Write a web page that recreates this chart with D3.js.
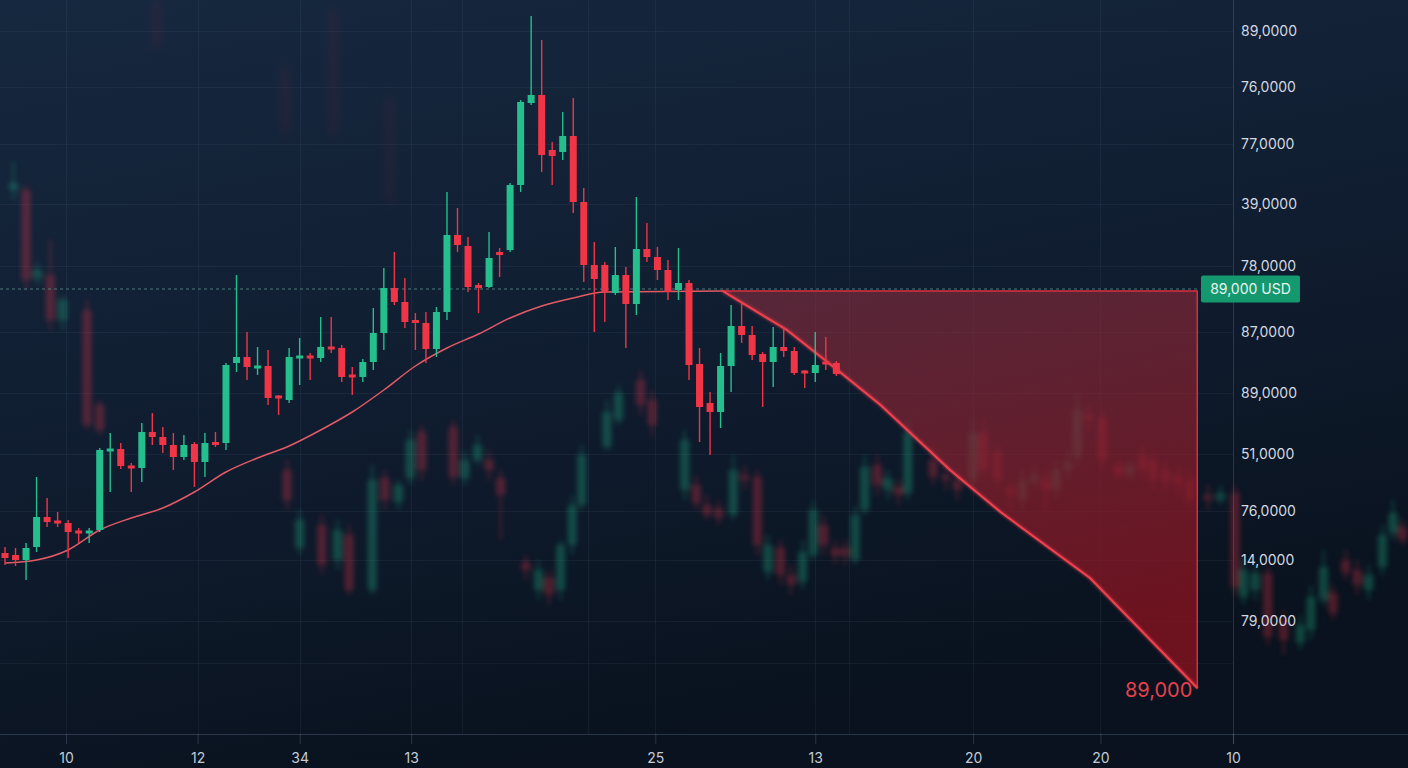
<!DOCTYPE html>
<html><head><meta charset="utf-8">
<script src="https://cdn.jsdelivr.net/npm/d3@7"></script>
<style>html,body{margin:0;padding:0;background:#0d1828;overflow:hidden}</style>
</head><body><svg id="c" width="1408" height="768"></svg>
<script>
// ---- DATA ----
// main candles: [open, high, low, close]
const candles = [
[44700,45300,43500,44200],[44500,45200,43400,44000],[44000,45700,42000,45200],[45300,52300,44800,48300],
[48300,50200,47300,47800],[47900,48800,47300,47700],[47700,48000,44200,46800],[46900,47200,45700,46700],
[46700,47200,45700,46900],[47000,55200,46800,55000],[54900,56700,50800,55100],[55100,55700,53100,53400],
[53400,53700,50800,53200],[53200,57700,51800,56800],[56800,58700,55500,56300],[56300,57300,54700,55500],
[55500,56700,53000,54300],[54300,56500,54000,55500],[55600,55800,51300,53800],[53800,56700,52300,55700],
[55800,56800,55300,55500],[55700,63700,55000,63500],[63700,72500,62800,64300],[64300,66800,62000,63300],
[63200,65300,62500,63400],[63400,65000,59500,60200],[60400,60500,58500,60200],[60000,65200,59700,64300],
[64200,66200,61500,64400],[64400,64700,62000,64200],[64200,68300,63800,65300],[65300,68300,64700,65100],
[65200,65500,61800,62300],[62500,63300,60500,62300],[62300,64100,61800,63800],[63800,69200,63000,66700],
[66700,73200,65000,71200],[71200,74800,69500,69800],[69800,72200,67200,67800],[68000,68700,65000,67700],
[67700,68800,63700,65100],[65100,69300,64300,68800],[68800,80800,68000,76500],[76500,79200,74800,75500],
[75400,76300,70800,71300],[71500,71700,68700,71200],[71300,76800,71200,74200],[74800,75200,72300,74500],
[75000,81700,74800,81500],[81500,90000,80800,89800],[89700,98400,89500,90500],[90500,96000,82800,84500],
[85000,85800,81500,84400],[84800,88800,84000,86400],[86400,90200,78700,79800],[79800,81200,71800,73500],
[73500,75800,66800,72100],[73500,73800,67800,70800],[70700,75300,70500,72500],[72500,73300,65200,69600],
[69600,80300,68500,75100],[75100,77700,73800,74300],[74300,75300,72000,73000],[73000,74000,70000,70800],
[71000,75200,70000,71700],[71700,72000,62000,63500],[63600,65200,55800,59300],[59700,60800,54500,58800],
[58800,64700,57200,63400],[63400,69500,60800,67400],[67400,69800,65700,66500],[66500,67400,64000,64500],
[64600,64800,59300,63800],[63800,67300,61300,65300],[65300,67300,64300,64900],[64900,65300,62500,62700],
[62900,63000,61200,62700],[62700,66800,61800,63500],[63800,66300,63000,63600],[63700,63900,62400,62600]
];
// blurred background candles: [position, open, high, low, close]
const bgCandles = [
[0.8,81000,83800,80000,81700],[2.0,81000,81500,71000,72000],[3.1,72200,73800,71500,73000],[4.3,72500,76000,67000,68000],
[5.5,68000,70500,67000,70000],[7.8,69000,70000,57000,57500],[9.0,59500,60000,56500,57000],
[26.8,53000,54000,49000,50000],[28.0,45200,49000,44500,48000],[30.1,47500,48500,42500,43500],[31.6,44000,48000,43000,47000],
[32.7,46500,47500,40500,41000],[34.9,41000,53500,40500,52000],[36.1,52200,53000,49000,50000],[37.4,49800,52000,49000,51500],
[38.5,52200,57000,51500,56000],[39.6,56800,57500,52000,53000],[42.6,57300,58000,51500,52300],[43.7,52200,55000,51500,54000],
[44.9,54000,56500,53500,55500],[46.0,54000,55000,52000,53000],[47.1,52200,53000,46000,50500],[49.5,43800,44500,42000,43000],
[50.7,41000,44000,40000,43000],[51.7,42200,43000,39500,40500],[52.8,41000,46000,40000,45500],[53.9,45500,50500,44500,49500],
[54.8,49500,55500,49000,54500],[57.2,55300,60000,55000,58800],[58.3,58000,61500,57500,60700],[60.4,62000,63000,58500,59500],
[61.5,60000,61000,56500,57500],[64.6,51000,57000,50000,56000],[65.7,51500,52500,49000,49700],[66.7,49500,50500,48000,48500],
[67.8,49200,50000,47500,48200],[69.2,48500,54500,48000,53000],[70.3,52500,53500,51000,52000],[71.5,52300,53000,44500,45500],
[72.5,42800,46500,42000,45500],[73.7,45200,46000,41500,42500],[74.7,42500,43500,40500,41500],[75.8,41800,46000,41000,44800],
[76.8,44500,50000,44000,49000],[77.8,47500,48500,44500,45500],[78.9,45200,46000,43500,44400],[79.8,45200,46000,43500,44400],
[80.8,44000,49500,43500,48500],[81.7,49000,54500,48500,53300],[82.9,53500,54500,50500,51500],[83.9,51000,53000,50000,52200],
[84.9,51300,52000,49500,50500],[85.8,50700,58000,50000,56800],[88.2,54000,55500,51500,52300],[89.4,52500,53500,51000,52000],
[90.5,52000,53000,50000,51000],[92.0,52000,58000,51000,56700],[93.0,56700,58000,52000,53000],[94.3,54800,55500,51000,52000],
[95.5,51200,52000,49000,50500],[96.7,50000,53000,49000,52000],[97.8,51800,53500,51000,52500],[98.9,52000,53000,49000,51000],
[99.9,51000,54000,50000,53000],[101.0,53000,55000,52000,53800],[101.9,54300,60500,53500,59000],[103.0,58500,59500,57000,58000],
[104.3,58200,59000,53000,54000],[105.8,53500,54000,52000,52500],[106.9,52500,54000,52000,53500],[108.1,54500,55500,52000,53000],
[109.1,54000,55000,51000,52000],[110.3,53000,54000,51000,51800],[111.5,52500,53500,50500,51500],[112.6,52000,53000,49000,50000],
[114.3,50500,51500,49000,50000],[115.5,50000,51500,49500,50700],[116.9,50700,51500,40500,41300],[117.7,40300,44000,39500,43000],
[118.8,41000,43500,40000,42700],[120.0,42700,43500,35500,36300],[121.5,38000,39000,34500,36000],[123.1,35700,38500,35000,37500],
[124.1,37000,41500,36000,40300],[125.3,40000,45000,39500,43300],[126.2,40700,41500,38000,38700],[127.4,44000,45000,42000,42700],
[128.5,43000,44000,40500,41500],[129.6,41000,43500,40000,42500],[130.9,43300,47500,42500,46500],[131.9,46700,50000,46000,48700],
[132.8,47300,48000,45500,46000]
];
// very faint upper candles: [position, open, high, low, close]
const farCandles = [
[14.4,100000,100000,95000,95300],[26.6,93000,94000,86000,87000],[31.2,99000,99500,86000,86700],[36.6,90000,91000,79000,80000]
];
// moving average
const maIndex  = [0,3,6,9,12,15,18,21,24,27,30,33,36,39,42,45,48,51,54,57,68.2];
const maValues = [43700,44000,45000,47000,48200,49200,50800,52800,54200,55400,57000,58800,61000,63400,65200,66600,68200,69400,70200,70800,70900];
// projected fall
const projIndex  = [68.2,74.3,79.1,83.2,89.8,94.6,103.1,113.3];
const projValues = [70900,67000,63000,59500,53000,48800,42200,31200];
const levelPrice = 71100;
const targetTop = 70900;
const badgeLabel = "89,000 USD";
const targetLabel = "89,000";
// axes
const yTickValues = [96900,91300,85600,79600,73400,66800,60700,54600,48900,44000,37900,33700];
const yTickLabels = ["89,0000","76,0000","77,0000","39,0000","78,0000","87,0000","89,0000","51,0000","76,0000","14,0000","79,0000",""];
const xTickIndex  = [5.8,18.3,28.0,38.6,61.8,77.0,92.0,104.1,116.7];
const xTickLabels = ["10","12","34","13","25","13","20","20","10"];
const extraGridIndex = [43.4,55.4,80.2];

// ---- DRAW ----
const W = 1408, H = 768;
const svg = d3.select('#c');
const x = d3.scaleLinear().domain([0,130]).range([5,1373]);
const y = d3.scaleLinear().domain([28000,100000]).range([720,0]);
const axisX = 1233, axisY = 734;
const GREEN = '#24bf8d', RED = '#f03646';

const defs = svg.append('defs');
const bg = defs.append('linearGradient').attr('id','bg').attr('x1',0).attr('y1',0).attr('x2',0.35).attr('y2',1);
bg.append('stop').attr('offset','0%').attr('stop-color','#16283f');
bg.append('stop').attr('offset','55%').attr('stop-color','#101d30');
bg.append('stop').attr('offset','100%').attr('stop-color','#09121e');
const tri = defs.append('linearGradient').attr('id','tri').attr('x1',0).attr('y1',0).attr('x2',0.25).attr('y2',1);
tri.append('stop').attr('offset','0%').attr('stop-color','#9a3040').attr('stop-opacity',0.5);
tri.append('stop').attr('offset','100%').attr('stop-color','#86121f').attr('stop-opacity',0.8);
defs.append('filter').attr('id','blur').attr('x','-50%').attr('y','-20%').attr('width','200%').attr('height','140%')
  .append('feGaussianBlur').attr('stdDeviation',2.8);
defs.append('filter').attr('id','blur2').attr('x','-50%').attr('y','-20%').attr('width','200%').attr('height','140%')
  .append('feGaussianBlur').attr('stdDeviation',5);
const glow = defs.append('filter').attr('id','glow').attr('x','-10%').attr('y','-10%').attr('width','120%').attr('height','120%');
glow.append('feGaussianBlur').attr('stdDeviation',1.5).attr('result','b');
const fm = glow.append('feMerge'); fm.append('feMergeNode').attr('in','b'); fm.append('feMergeNode').attr('in','SourceGraphic');

svg.append('rect').attr('width',W).attr('height',H).attr('fill','url(#bg)');

// grid
const grid = svg.append('g').attr('stroke','#8aa4c4').attr('stroke-opacity',0.08).attr('stroke-width',1);
grid.selectAll('line.h').data(yTickValues).join('line').attr('class','h')
  .attr('x1',0).attr('x2',axisX).attr('y1',d=>Math.round(y(d))+0.5).attr('y2',d=>Math.round(y(d))+0.5);
grid.selectAll('line.v').data(xTickIndex.slice(0,-1).concat(extraGridIndex)).join('line').attr('class','v')
  .attr('y1',0).attr('y2',axisY).attr('x1',d=>Math.round(x(d))+0.5).attr('x2',d=>Math.round(x(d))+0.5);

function drawCandles(g, data, getPos, bw, wickW){
  const c = g.selectAll('g').data(data).join('g');
  c.append('line')
    .attr('x1',(d,i)=>x(getPos(d,i))).attr('x2',(d,i)=>x(getPos(d,i)))
    .attr('y1',d=>y(d.h)).attr('y2',d=>y(d.l))
    .attr('stroke',d=>d.c>=d.o?GREEN:RED).attr('stroke-width',wickW);
  c.append('rect')
    .attr('x',(d,i)=>x(getPos(d,i))-bw/2).attr('width',bw)
    .attr('y',d=>{const t=y(Math.max(d.o,d.c)),hh=Math.abs(y(d.o)-y(d.c));return hh<3?t-(3-hh)/2:t;})
    .attr('height',d=>Math.max(3,Math.abs(y(d.o)-y(d.c))))
    .attr('fill',d=>d.c>=d.o?GREEN:RED);
}
const toObj = a => ({p:a[0],o:a[1],h:a[2],l:a[3],c:a[4]});

// faint background candles
const farG = svg.append('g').attr('filter','url(#blur2)').attr('opacity',0.07);
drawCandles(farG, farCandles.map(toObj), d=>d.p, 10, 3);
const bgG = svg.append('g').attr('filter','url(#blur)').attr('opacity',0.3);
drawCandles(bgG, bgCandles.map(toObj), d=>d.p, 9, 2);

// dashed level
svg.append('line').attr('x1',0).attr('x2',x(projIndex[projIndex.length-1])+3)
  .attr('y1',y(levelPrice)).attr('y2',y(levelPrice))
  .attr('stroke','#5f9a92').attr('stroke-opacity',0.75).attr('stroke-width',1.2).attr('stroke-dasharray','3,3');

// projection triangle
const lastI = projIndex[projIndex.length-1];
const triPts = [[projIndex[0],targetTop],[lastI,targetTop]].concat(projIndex.map((d,i)=>[d,projValues[i]]).reverse());
svg.append('path').attr('d',d3.line().x(d=>x(d[0])).y(d=>y(d[1]))(triPts)+'Z')
  .attr('fill','url(#tri)').attr('stroke','#d9303f').attr('stroke-width',1.5).attr('stroke-linejoin','round');

// MA line
svg.append('path').datum(maIndex.map((d,i)=>[d,maValues[i]]))
  .attr('d',d3.line().x(d=>x(d[0])).y(d=>y(d[1])).curve(d3.curveMonotoneX))
  .attr('fill','none').attr('stroke','#e35a66').attr('stroke-width',1.5);
// projection line
svg.append('path').datum(projIndex.map((d,i)=>[d,projValues[i]]))
  .attr('d',d3.line().x(d=>x(d[0])).y(d=>y(d[1])))
  .attr('fill','none').attr('stroke','#f0404e').attr('stroke-width',1.8).attr('filter','url(#glow)');

// main candles
const mainG = svg.append('g');
drawCandles(mainG, candles.map(a=>({o:a[0],h:a[1],l:a[2],c:a[3]})), (d,i)=>i, 7, 1.4);

// axes
svg.append('line').attr('x1',0).attr('x2',W).attr('y1',axisY+0.5).attr('y2',axisY+0.5)
  .attr('stroke','#8aa4c4').attr('stroke-opacity',0.25);
svg.append('line').attr('x1',axisX+0.5).attr('x2',axisX+0.5).attr('y1',0).attr('y2',axisY+10)
  .attr('stroke','#8aa4c4').attr('stroke-opacity',0.22);

const yAx = svg.append('g').attr('transform',`translate(${axisX},0)`)
  .call(d3.axisRight(y).tickValues(yTickValues).tickFormat((d,i)=>yTickLabels[i]).tickSize(0).tickPadding(8));
yAx.select('.domain').remove();
yAx.selectAll('text').attr('fill','#d3d9e1').attr('font-family','Inter, Roboto, sans-serif').attr('font-size',14);

const xAx = svg.append('g').attr('transform',`translate(0,${axisY})`)
  .call(d3.axisBottom(x).tickValues(xTickIndex).tickFormat((d,i)=>xTickLabels[i]).tickSize(10).tickPadding(9));
xAx.select('.domain').remove();
xAx.selectAll('.tick line').attr('stroke','#8aa4c4').attr('stroke-opacity',0.25);
xAx.selectAll('text').attr('fill','#c3cbd5').attr('font-family','Inter, Roboto, sans-serif').attr('font-size',14);

// badge
const bx = axisX - 32, by = y(levelPrice);
svg.append('rect').attr('x',bx).attr('y',by-13.5).attr('width',99).attr('height',27).attr('rx',2)
  .attr('fill','#14996f');
svg.append('text').attr('x',bx+49.5).attr('y',by).attr('dy','0.35em').attr('text-anchor','middle')
  .attr('fill','#e8f5ef').attr('font-family','Inter, Roboto, sans-serif').attr('font-size',14).text(badgeLabel);

// target label
svg.append('text').attr('x',x(lastI)-5).attr('y',y(projValues[projValues.length-1])+9)
  .attr('text-anchor','end').attr('fill','#e5414d').attr('font-family','Inter, Roboto, sans-serif')
  .attr('font-size',20).text(targetLabel);
</script></body></html>
